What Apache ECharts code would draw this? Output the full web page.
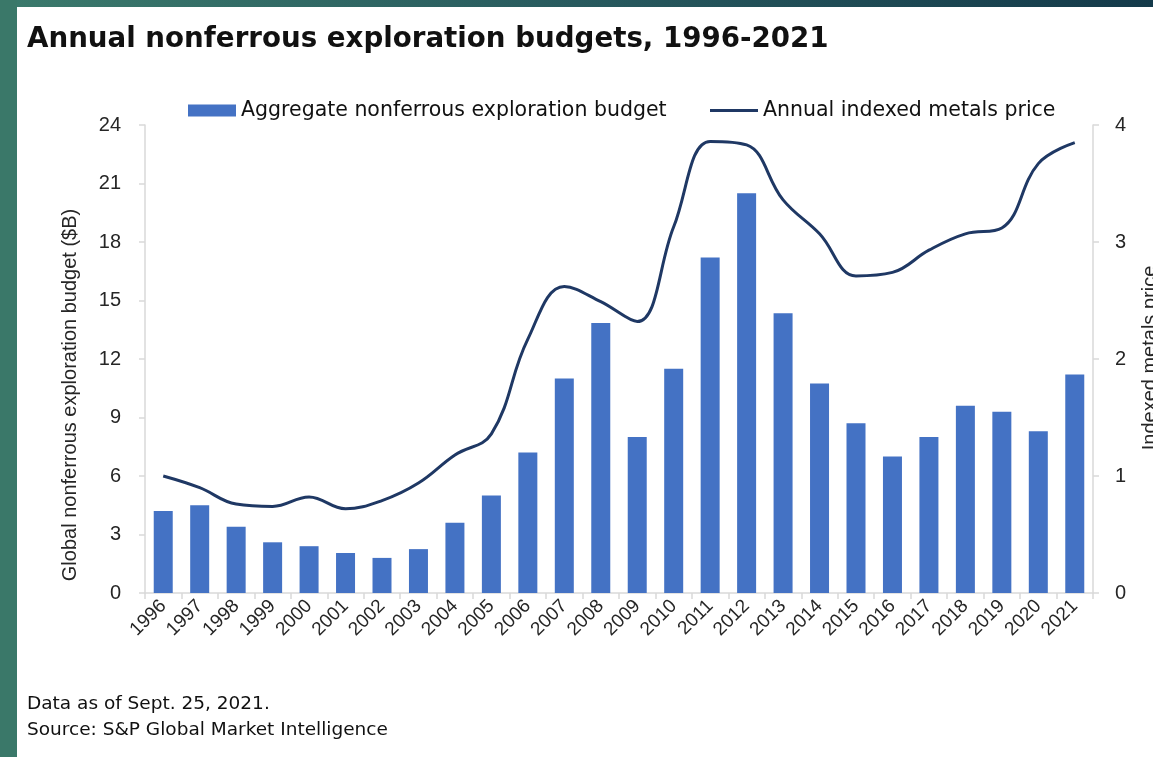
<!DOCTYPE html>
<html>
<head>
<meta charset="utf-8">
<script src="https://cdn.jsdelivr.net/npm/echarts@6/dist/echarts.min.js"></script>
<style>
html,body{margin:0;padding:0;background:#fff;}
#c{width:1153px;height:757px;}
</style>
</head>
<body>
<div id="c"></div>
<script>
var years = ['1996','1997','1998','1999','2000','2001','2002','2003','2004','2005','2006','2007','2008','2009','2010','2011','2012','2013','2014','2015','2016','2017','2018','2019','2020','2021'];
var budget = [4.2,4.5,3.4,2.6,2.4,2.05,1.8,2.25,3.6,5.0,7.2,11.0,13.85,8.0,11.5,17.2,20.5,14.35,10.75,8.7,7.0,8.0,9.6,9.3,8.3,11.2];
var metalsPrice = [1.0,0.9,0.76,0.74,0.82,0.72,0.79,0.94,1.18,1.36,2.17,2.62,2.49,2.32,3.13,3.86,3.83,3.36,3.07,2.71,2.74,2.93,3.07,3.12,3.67,3.85];
var leftTicks = [0,3,6,9,12,15,18,21,24];
var rightTicks = [0,1,2,3,4];

var chart = echarts.init(document.getElementById('c'));
var axisGrey = '#d9d9d9';
var labelColor = '#262626';
var sans = 'Liberation Sans';
var legendFont = {fontFamily:'DejaVu Sans', fontSize:20.5, color:'#111'};
var option = {
  animation: false,
  backgroundColor: '#fff',
  graphic: [
    {type:'rect', shape:{x:0,y:0,width:1153,height:7}, style:{fill:new echarts.graphic.LinearGradient(0,0,1,0,[{offset:0,color:'#3b7a6c'},{offset:0.5,color:'#285a5e'},{offset:1,color:'#143a4a'}])}, z:10},
    {type:'rect', shape:{x:0,y:0,width:17,height:757}, style:{fill:'#3a7869'}, z:10},
    {type:'text', left:27, top:26, style:{text:'Annual nonferrous exploration budgets, 1996-2021', font:'bold 27.7px "DejaVu Sans"', fill:'#111'}},
    {type:'text', left:27, top:695, style:{text:'Data as of Sept. 25, 2021.', font:'18.5px "DejaVu Sans"', fill:'#111'}},
    {type:'text', left:27, top:721, style:{text:'Source: S&P Global Market Intelligence', font:'18.5px "DejaVu Sans"', fill:'#111'}},
    {type:'text', x:70, y:395, rotation:Math.PI/2, style:{text:'Global nonferrous exploration budget ($B)', font:'20px "Liberation Sans"', fill:labelColor, align:'center', verticalAlign:'middle'}},
    {type:'text', x:1150, y:358, rotation:Math.PI/2, style:{text:'Indexed metals price', font:'20px "Liberation Sans"', fill:labelColor, align:'center', verticalAlign:'middle'}}
  ],
  legend: [
    {left: 188, top: 100, padding: 0, itemWidth: 48, itemHeight: 12, textStyle: legendFont,
     data: [{name:'Aggregate nonferrous exploration budget', icon:'rect'}]},
    {left: 710, top: 100, padding: 0, itemWidth: 48, itemHeight: 3, textStyle: legendFont,
     data: [{name:'Annual indexed metals price', icon:'rect'}]}
  ],
  grid: {left:145, right:60, top:125, bottom:164, containLabel:false, outerBoundsMode:'none'},
  xAxis: {
    type:'category', data: years, boundaryGap: true,
    axisLine:{lineStyle:{color:axisGrey, width:1.5}},
    axisTick:{show:true, length:6, lineStyle:{color:axisGrey, width:1.5}},
    axisLabel:{rotate:45, fontFamily:sans, fontSize:19, color:labelColor, margin:10, interval:0}
  },
  yAxis: [
    {
      type:'value', min:0, max:24, interval:3,
      axisLine:{show:true, lineStyle:{color:axisGrey, width:1.5}},
      axisTick:{show:true, length:6, lineStyle:{color:axisGrey, width:1.5}},
      splitLine:{show:false},
      axisLabel:{fontFamily:sans, fontSize:20, color:labelColor, margin:24}
    },
    {
      type:'value', min:0, max:4, interval:1,
      axisLine:{show:true, lineStyle:{color:axisGrey, width:1.5}},
      axisTick:{show:true, length:6, inside:false, lineStyle:{color:axisGrey, width:1.5}},
      splitLine:{show:false},
      axisLabel:{fontFamily:sans, fontSize:20, color:labelColor, margin:22}
    }
  ],
  series: [
    {name:'Aggregate nonferrous exploration budget', type:'bar', data: budget, yAxisIndex:0, barWidth:19, itemStyle:{color:'#4472c4'}},
    {name:'Annual indexed metals price', type:'line', data: metalsPrice, yAxisIndex:1, smooth:0.4, symbol:'none', lineStyle:{color:'#1f3864', width:3}, itemStyle:{color:'#1f3864'}}
  ]
};
chart.setOption(option);
</script>
</body>
</html>
